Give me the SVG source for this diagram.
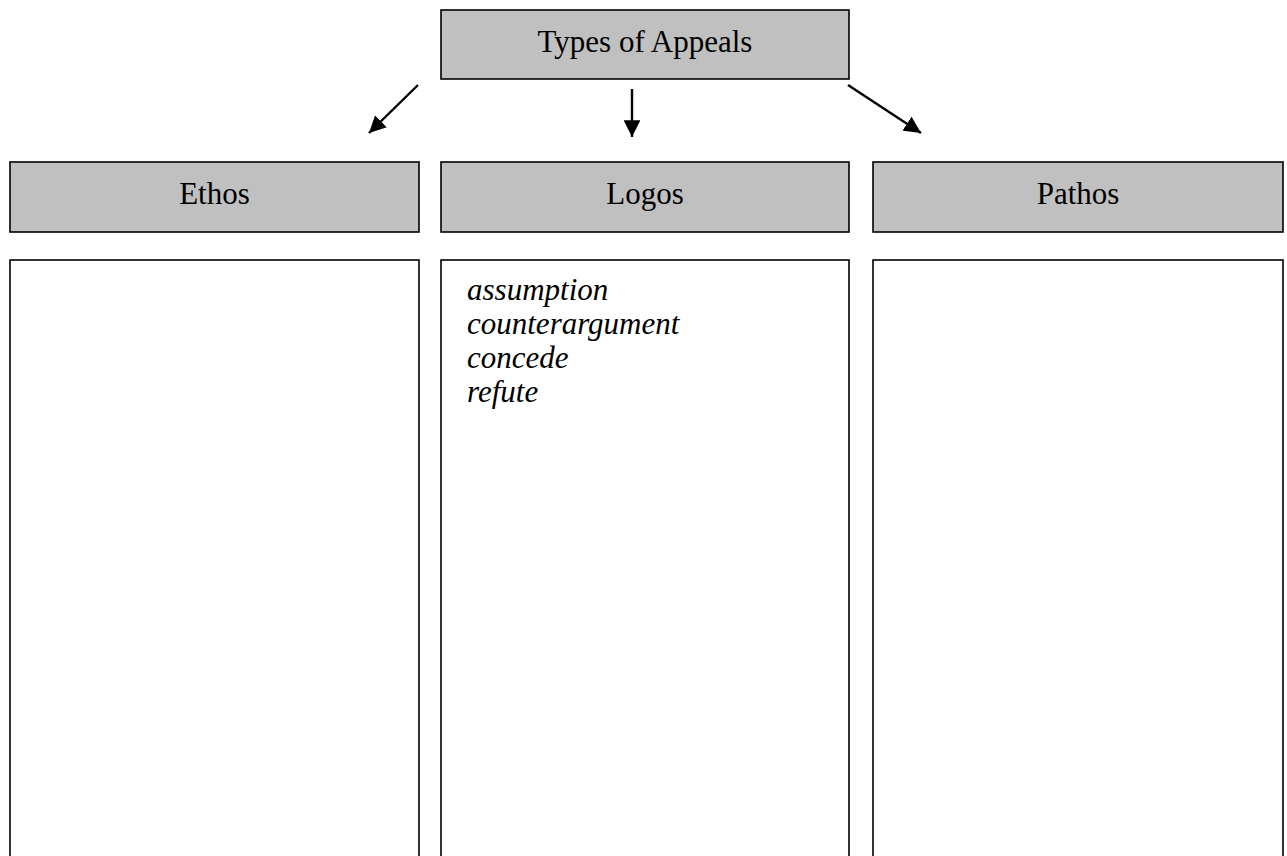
<svg xmlns="http://www.w3.org/2000/svg" width="1287" height="856" viewBox="0 0 1287 856">
<style>
.hdr{fill:#c0c0c0;stroke:#000;stroke-width:1.6}
.box{fill:#fff;stroke:#000;stroke-width:1.6}
.t{font-family:"Liberation Serif","Times New Roman",serif;font-size:31px;fill:#000;text-anchor:middle}
.it{font-family:"Liberation Serif","Times New Roman",serif;font-size:31px;font-style:italic;fill:#000}
.conn{stroke:#000;stroke-width:2.4;fill:none;marker-end:url(#ah)}
</style>
<defs>
<marker id="ah" viewBox="0 0 10 10" refX="10" refY="5" markerWidth="7" markerHeight="7" markerUnits="strokeWidth" orient="auto">
<path d="M0,0 L10,5 L0,10 z" fill="#000"/>
</marker>
</defs>
<rect width="1287" height="856" fill="#fff"/>
<g id="types">
<rect class="hdr" x="441" y="10" width="408" height="69"/>
<text class="t" x="645" y="52">Types of Appeals</text>
</g>
<g id="connectors">
<line class="conn" x1="418" y1="85" x2="369" y2="133"/>
<line class="conn" x1="632" y1="89" x2="632" y2="137"/>
<line class="conn" x1="848" y1="85" x2="921" y2="133"/>
</g>
<g id="ethos">
<rect class="hdr" x="10" y="162" width="409" height="70"/>
<text class="t" x="214.5" y="204">Ethos</text>
</g>
<g id="logos">
<rect class="hdr" x="441" y="162" width="408" height="70"/>
<text class="t" x="645" y="204">Logos</text>
</g>
<g id="pathos">
<rect class="hdr" x="873" y="162" width="410" height="70"/>
<text class="t" x="1078" y="204">Pathos</text>
</g>
<g id="ethos-list">
<rect class="box" x="10" y="260" width="409" height="620"/>
</g>
<g id="logos-list">
<rect class="box" x="441" y="260" width="408" height="620"/>
<text class="it" x="467" y="300">assumption</text>
<text class="it" x="467" y="334">counterargument</text>
<text class="it" x="467" y="368">concede</text>
<text class="it" x="467" y="402">refute</text>
</g>
<g id="pathos-list">
<rect class="box" x="873" y="260" width="410" height="620"/>
</g>
</svg>
